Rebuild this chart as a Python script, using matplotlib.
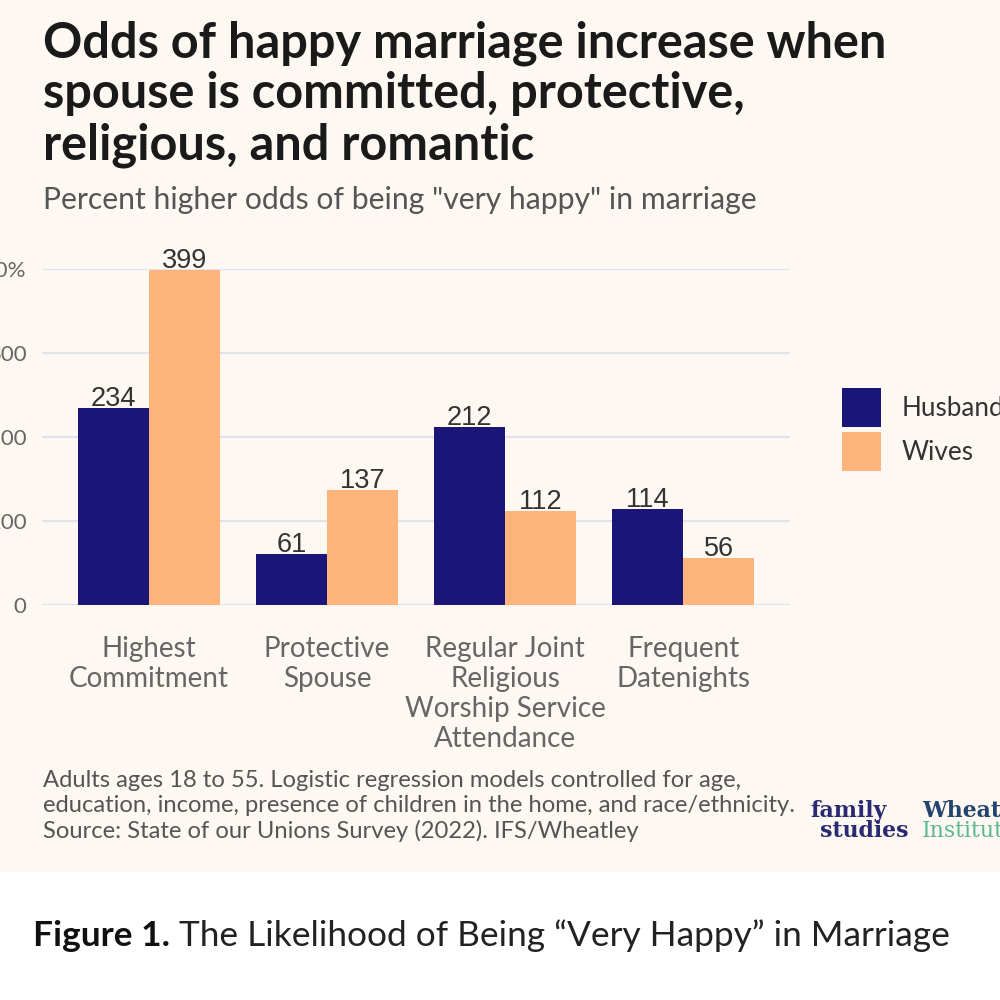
import matplotlib
matplotlib.use("Agg")
import matplotlib.pyplot as plt
from matplotlib.patches import Patch, Rectangle
import numpy as np

# ---- data ----
categories = ["Highest\nCommitment", "Protective\nSpouse",
              "Regular Joint\nReligious\nWorship Service\nAttendance",
              "Frequent\nDatenights"]
husbands = [234, 61, 212, 114]
wives = [399, 137, 112, 56]
series_names = ["Husbands", "Wives"]
yticks = [0, 100, 200, 300, 400]
ytick_labels = ["0", "100", "200", "300", "400%"]

title_lines = ["Odds of happy marriage increase when",
               "spouse is committed, protective,",
               "religious, and romantic"]
subtitle = 'Percent higher odds of being "very happy" in marriage'
footnote_lines = ["Adults ages 18 to 55. Logistic regression models controlled for age,",
                  "education, income, presence of children in the home, and race/ethnicity.",
                  "Source: State of our Unions Survey (2022). IFS/Wheatley"]
caption_bold = "Figure 1."
caption_rest = " The Likelihood of Being \u201cVery Happy\u201d in Marriage"

NAVY = "#1B1577"
PEACH = "#FFB47C"
BG = "#FDF8F1"
GRID = "#E2E2EC"

plt.rcParams['font.family'] = ['Lato', 'DejaVu Sans']

W, H = 1000, 1000
fig = plt.figure(figsize=(10, 10), dpi=100)
fig.patch.set_facecolor("white")
fig.patches.append(Rectangle((0, 1 - 872 / H), 1, 872 / H, transform=fig.transFigure,
                             facecolor=BG, edgecolor="none", zorder=-10))

def fx(px):
    return px / W

def fy(py):
    return 1 - py / H

ax = fig.add_axes([fx(42), fy(605), fx(790) - fx(42), fy(269) - fy(605)])
ax.set_facecolor("none")
x = np.arange(len(categories))
bw = 0.4
b1 = ax.bar(x - bw / 2, husbands, bw, color=NAVY, label=series_names[0], zorder=3)
b2 = ax.bar(x + bw / 2, wives, bw, color=PEACH, label=series_names[1], zorder=3)
for bars, vals in ((b1, husbands), (b2, wives)):
    for rect, v in zip(bars, vals):
        ax.annotate(str(v), (rect.get_x() + rect.get_width() / 2, rect.get_height()),
                    xytext=(0, 1.5), textcoords="offset points", ha="center", va="baseline",
                    fontsize=19.5, color="#333333", family=["Liberation Sans"], zorder=4)

ax.set_xlim(-0.6, 3.6)
ax.set_ylim(0, 400)
ax.set_yticks(yticks)
ax.set_yticklabels(ytick_labels)
ax.yaxis.grid(True, color=GRID, linewidth=1.6, zorder=0)
ax.set_axisbelow(True)
for s in ax.spines.values():
    s.set_visible(False)
ax.tick_params(axis="y", length=0, pad=11, labelsize=16, labelcolor="#666666")
ax.set_xticks(x)
ax.set_xticklabels(categories)
ax.tick_params(axis="x", length=0, pad=22, labelsize=20, labelcolor="#666666")
for lab in ax.get_xticklabels():
    lab.set_linespacing(1.19)

# legend
handles = [Patch(facecolor=NAVY, edgecolor="none"), Patch(facecolor=PEACH, edgecolor="none")]
fig.legend(handles, series_names, loc="upper left", bbox_to_anchor=(fx(842), fy(388)),
           frameon=False, fontsize=18.8, handlelength=1.5, handleheight=1.9,
           labelspacing=0.2, handletextpad=0.8, borderpad=0, borderaxespad=0,
           labelcolor="#333333")

# titles
for i, line in enumerate(title_lines):
    fig.text(fx(43), fy(57 + 51.5 * i), line, fontsize=35.0, fontweight="bold",
             color="#1a1a1a", ha="left", va="baseline")
fig.text(fx(43), fy(209), subtitle, fontsize=21.7, color="#555555", ha="left", va="baseline")
for i, line in enumerate(footnote_lines):
    fig.text(fx(43), fy(787 + 25.5 * i), line, fontsize=17.1, color="#555555",
             ha="left", va="baseline")

# logos
serif = ["DejaVu Serif"]
fig.text(fx(810), fy(817), "family", fontsize=15.8, fontweight="bold", color="#2A2A72",
         family=serif, ha="left", va="baseline")
fig.text(fx(820), fy(837), "studies", fontsize=15.8, fontweight="bold", color="#2A2A72",
         family=serif, ha="left", va="baseline")
fig.text(fx(922), fy(817), "Wheatley", fontsize=15.8, fontweight="bold", color="#23446E",
         family=serif, ha="left", va="baseline")
fig.text(fx(922), fy(837), "Institute", fontsize=15.8, color="#5DB596",
         family=serif, ha="left", va="baseline")

# caption
renderer = fig.canvas.get_renderer()
cap_size = 27
tb = fig.text(fx(33), fy(946), caption_bold, fontsize=cap_size, fontweight="bold",
              color="#111111", ha="left", va="baseline")
w_b = tb.get_window_extent(renderer).width
tr = fig.text(fx(33) + w_b / W, fy(946), caption_rest, fontsize=cap_size,
              color="#222222", ha="left", va="baseline")
total = w_b + tr.get_window_extent(renderer).width
scale = 917 / total
tb.set_fontsize(cap_size * scale)
w_b = tb.get_window_extent(renderer).width
tr.set_fontsize(cap_size * scale)
tr.set_x(fx(33) + w_b / W)

fig.savefig("out.png", dpi=100, facecolor=fig.get_facecolor())
